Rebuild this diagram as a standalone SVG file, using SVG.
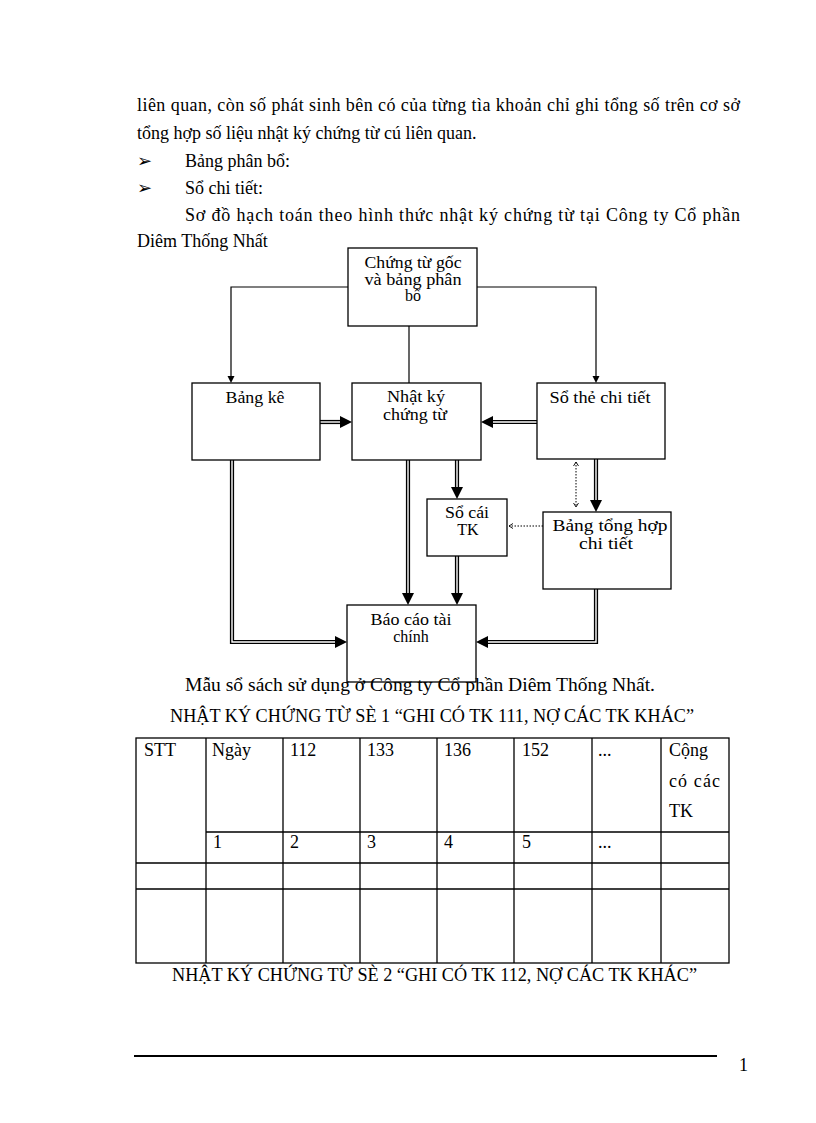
<svg xmlns="http://www.w3.org/2000/svg" width="816" height="1123" viewBox="0 0 816 1123">
<defs>
<style>
.t{font-family:"Liberation Serif","Times New Roman",serif;font-size:18px;fill:#000}
.b{font-family:"Liberation Serif","Times New Roman",serif;font-size:16px;fill:#000;text-anchor:middle}
.box{fill:#fff;stroke:#000;stroke-width:1.3}
.thin{fill:none;stroke:#000;stroke-width:1.2}
.dO{fill:none;stroke:#000;stroke-width:4.2;stroke-linejoin:miter}
.dI{fill:none;stroke:#fff;stroke-width:1.4;stroke-linejoin:miter}
.dot{fill:none;stroke:#000;stroke-width:1;stroke-dasharray:1.5 1.5}
.grid{fill:none;stroke:#000;stroke-width:1.3}
</style>
<marker id="big" markerUnits="userSpaceOnUse" markerWidth="14" markerHeight="14" refX="0" refY="7" orient="auto" viewBox="0 0 14 14"><path d="M0,1 L12,7 L0,13 z" fill="#000"/></marker>
<marker id="sm" markerUnits="userSpaceOnUse" markerWidth="8" markerHeight="8" refX="0" refY="4" orient="auto" viewBox="0 0 8 8"><path d="M0,0.5 L7,4 L0,7.5 z" fill="#000"/></marker>
<marker id="dt" markerUnits="userSpaceOnUse" markerWidth="6" markerHeight="6" refX="4" refY="3" orient="auto-start-reverse" viewBox="0 0 6 6"><path d="M0,0.5 L4,3 L0,5.5" fill="none" stroke="#000" stroke-width="0.9"/></marker>
</defs>
<rect width="816" height="1123" fill="#fff"/>

<g id="body-text">
<text class="t" x="137" y="111" textLength="603" lengthAdjust="spacing">liên quan, còn số phát sinh bên có của từng tìa khoản chỉ ghi tổng số trên cơ sở</text>
<text class="t" x="137" y="139">tổng hợp số liệu nhật ký chứng từ cú liên quan.</text>
<text class="t" x="137" y="167">➢</text>
<text class="t" x="185" y="167">Bảng phân bổ:</text>
<text class="t" x="137" y="194">➢</text>
<text class="t" x="185" y="194">Sổ chi tiết:</text>
<text class="t" x="185" y="221" textLength="555" lengthAdjust="spacing">Sơ đồ hạch toán theo hình thức nhật ký chứng từ tại Công ty Cổ phần</text>
<text class="t" x="137" y="247">Diêm Thống Nhất</text>
</g>

<g id="connectors">
<path class="thin" d="M348,287 H231 V376" marker-end="url(#sm)"/>
<path class="thin" d="M477,287 H596 V376" marker-end="url(#sm)"/>
<path class="thin" d="M409,326 V383"/>
<path class="dO" d="M320,422 H340" marker-end="url(#big)"/><path class="dI" d="M320,422 H340"/>
<path class="dO" d="M537,422 H493" marker-end="url(#big)"/><path class="dI" d="M537,422 H493"/>
<path class="dO" d="M232,460 V642 H335" marker-end="url(#big)"/><path class="dI" d="M232,460 V642 H335"/>
<path class="dO" d="M408,460 V593" marker-end="url(#big)"/><path class="dI" d="M408,460 V593"/>
<path class="dO" d="M457,460 V487" marker-end="url(#big)"/><path class="dI" d="M457,460 V487"/>
<path class="dO" d="M457,556 V593" marker-end="url(#big)"/><path class="dI" d="M457,556 V593"/>
<path class="dO" d="M596,459 V500" marker-end="url(#big)"/><path class="dI" d="M596,459 V500"/>
<path class="dO" d="M596,589 V642 H488" marker-end="url(#big)"/><path class="dI" d="M596,589 V642 H488"/>
<path class="dot" d="M576,462 V507" marker-start="url(#dt)" marker-end="url(#dt)"/>
<path class="dot" d="M543,526 H509" marker-end="url(#dt)"/>
</g>

<g id="node-chung-tu-goc">
<rect class="box" x="348" y="248" width="129" height="78"/>
<text class="b" x="413" y="268" textLength="97" lengthAdjust="spacingAndGlyphs">Chứng từ gốc</text>
<text class="b" x="413" y="285" textLength="97" lengthAdjust="spacingAndGlyphs">và bảng phân</text>
<text class="b" x="413" y="301">bổ</text>
</g>
<g id="node-bang-ke">
<rect class="box" x="192" y="383" width="128" height="77"/>
<text class="b" x="255" y="403" textLength="59" lengthAdjust="spacingAndGlyphs">Bảng kê</text>
</g>
<g id="node-nhat-ky">
<rect class="box" x="352" y="383" width="129" height="77"/>
<text class="b" x="416" y="402" textLength="58" lengthAdjust="spacingAndGlyphs">Nhật ký</text>
<text class="b" x="415" y="420" textLength="64" lengthAdjust="spacingAndGlyphs">chứng từ</text>
</g>
<g id="node-so-the">
<rect class="box" x="537" y="383" width="128" height="76"/>
<text class="b" x="600" y="403" textLength="101" lengthAdjust="spacingAndGlyphs">Sổ thẻ chi tiết</text>
</g>
<g id="node-so-cai">
<rect class="box" x="427" y="499" width="80" height="57"/>
<text class="b" x="467" y="518" textLength="44" lengthAdjust="spacingAndGlyphs">Sổ cái</text>
<text class="b" x="468" y="535">TK</text>
</g>
<g id="node-bang-tong-hop">
<rect class="box" x="543" y="512" width="128" height="77"/>
<text class="b" x="610" y="531" textLength="115" lengthAdjust="spacingAndGlyphs">Bảng tổng hợp</text>
<text class="b" x="606" y="549" textLength="54" lengthAdjust="spacingAndGlyphs">chi tiết</text>
</g>
<g id="node-bao-cao">
<rect class="box" x="347" y="605" width="129" height="77"/>
<text class="b" x="411" y="625" textLength="81" lengthAdjust="spacingAndGlyphs">Báo cáo tài</text>
<text class="b" x="411" y="642">chính</text>
</g>

<g id="table-section">
<text class="t" x="185" y="691" textLength="470" lengthAdjust="spacingAndGlyphs">Mẫu sổ sách sử dụng ở Công ty Cổ phần Diêm Thống Nhất.</text>
<text class="t" x="170" y="722" textLength="524" lengthAdjust="spacingAndGlyphs">NHẬT KÝ CHỨNG TỪ SÈ 1 “GHI CÓ TK 111, NỢ CÁC TK KHÁC”</text>
<rect class="grid" x="136" y="738" width="593" height="225"/>
<path class="grid" d="M206,738 V963 M283,738 V963 M360,738 V963 M437,738 V963 M514,738 V963 M592,738 V963 M661,738 V963 M206,832 H729 M136,863 H729 M136,889 H729"/>
<text class="t" x="144" y="756">STT</text>
<text class="t" x="212" y="756">Ngày</text>
<text class="t" x="290" y="756">112</text>
<text class="t" x="367" y="756">133</text>
<text class="t" x="444" y="756">136</text>
<text class="t" x="522" y="756">152</text>
<text class="t" x="598" y="756">...</text>
<text class="t" x="669" y="756">Cộng</text>
<text class="t" x="669" y="787" textLength="51" lengthAdjust="spacing">có các</text>
<text class="t" x="669" y="817">TK</text>
<text class="t" x="213" y="848">1</text>
<text class="t" x="290" y="848">2</text>
<text class="t" x="367" y="848">3</text>
<text class="t" x="444" y="848">4</text>
<text class="t" x="522" y="848">5</text>
<text class="t" x="598" y="848">...</text>
<text class="t" x="172" y="981" textLength="525" lengthAdjust="spacingAndGlyphs">NHẬT KÝ CHỨNG TỪ SÈ 2 “GHI CÓ TK 112, NỢ CÁC TK KHÁC”</text>
</g>

<g id="footer">
<line x1="134" y1="1056" x2="717" y2="1056" stroke="#000" stroke-width="2"/>
<text class="t" x="739" y="1071">1</text>
</g>
</svg>
